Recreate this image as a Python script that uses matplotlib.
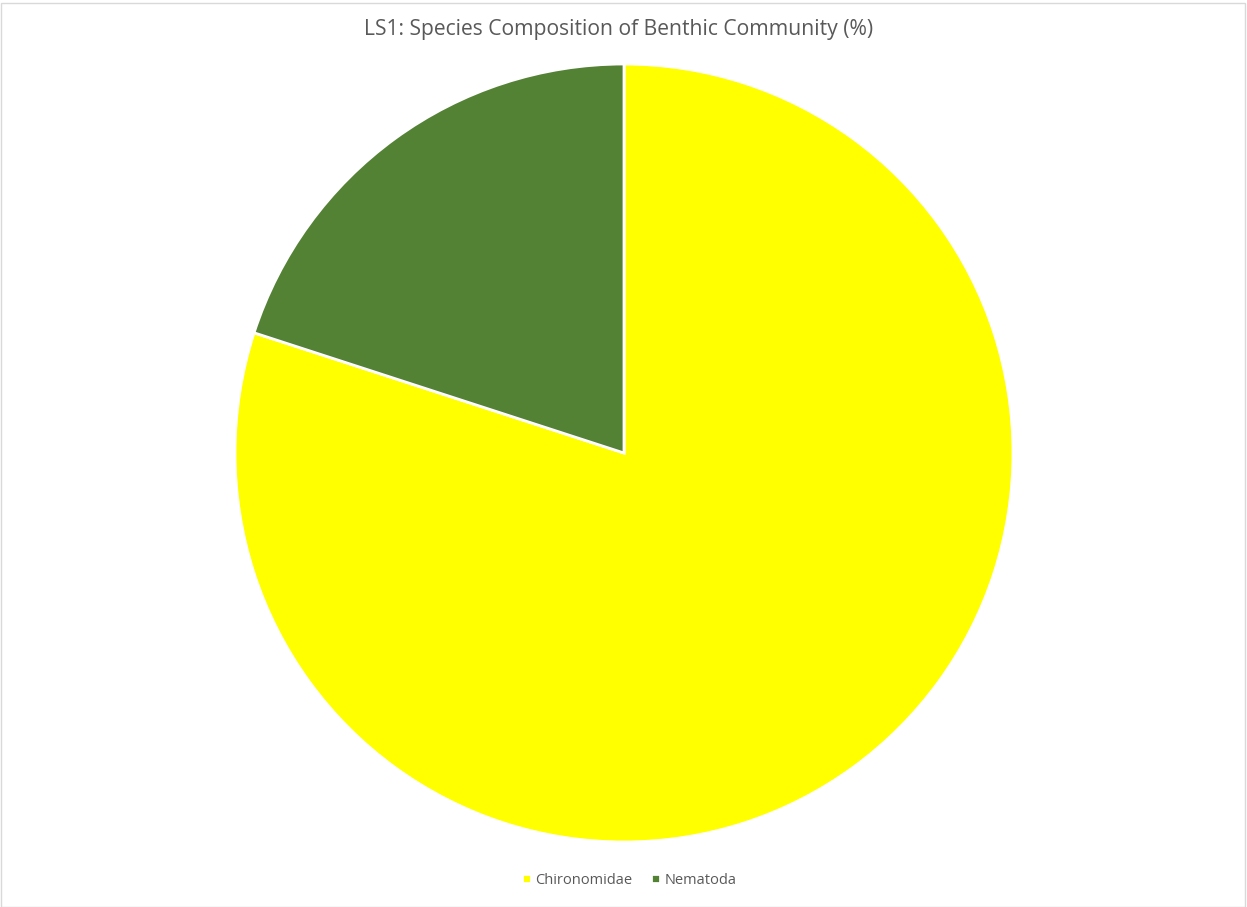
import matplotlib
matplotlib.use("Agg")
import matplotlib.pyplot as plt
from matplotlib.patches import Rectangle

categories = ["Chironomidae", "Nematoda"]
shares = [80, 20]
colors = ["#FFFF00", "#548235"]
title = "LS1: Species Composition of Benthic Community (%)"

W, H, DPI = 1247, 907, 100
fig = plt.figure(figsize=(W / DPI, H / DPI), dpi=DPI)
plt.rcParams["font.family"] = ["Open Sans", "DejaVu Sans"]

# Pie centred at (624, 453) px with radius 389 px
cx, cy, r = 624, 453, 389
ax = fig.add_axes([(cx - r) / W, (H - cy - r) / H, 2 * r / W, 2 * r / H])
wedges, _ = ax.pie(shares, colors=colors, startangle=90, counterclock=False,
                   wedgeprops=dict(edgecolor="white", linewidth=2))
ax.set_xlim(-1, 1)
ax.set_ylim(-1, 1)
ax.set_aspect("equal")
ax.axis("off")

fig.text(619 / W, 1 - 29 / H, title, ha="center", va="center",
         fontsize=15.2, color="#595959")

fig.legend(wedges, categories, loc="center", bbox_to_anchor=(629 / W, 1 - 880 / H),
           ncol=2, frameon=False, fontsize=10.5, labelcolor="#595959",
           handlelength=0.6, handleheight=0.6, handletextpad=0.3, columnspacing=1.3)

# light chart-area border
fig.patches.append(Rectangle((0.5 / W, 0.5 / H), (W - 3) / W, (H - 3) / H,
                             transform=fig.transFigure, fill=False,
                             edgecolor="#D9D9D9", linewidth=1))

fig.savefig("out.png", dpi=DPI)
